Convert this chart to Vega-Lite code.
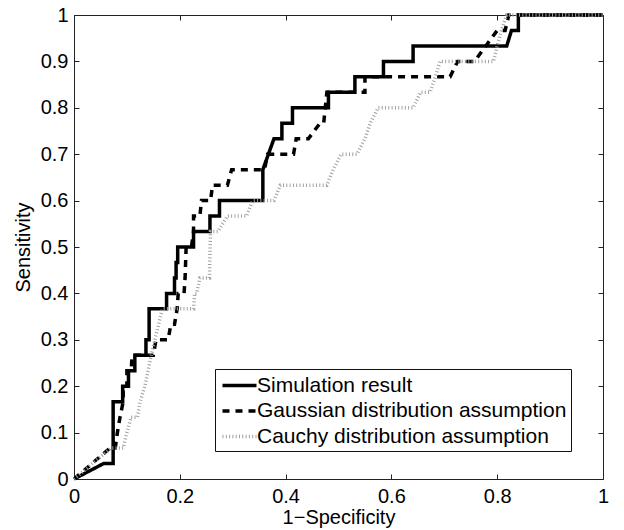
{
  "$schema": "https://vega.github.io/schema/vega-lite/v6.json",
  "width": 529,
  "height": 464,
  "autosize": "none",
  "padding": {"left": 74, "top": 15, "right": 21, "bottom": 51},
  "background": "white",
  "config": {
    "font": "Liberation Sans",
    "view": {"stroke": "#222222", "strokeWidth": 1},
    "axis": {"grid": false, "domain": false, "labelFont": "Liberation Sans", "titleFont": "Liberation Sans", "labelColor": "black", "titleColor": "black", "tickColor": "#222222", "labelFlush": false, "labelOverlap": false, "titleFontWeight": "normal"}
  },
  "data": {"values": [
    {"s": "Simulation result", "i": 0, "x": 0, "y": 0},
    {"s": "Simulation result", "i": 1, "x": 0.056, "y": 0.0333},
    {"s": "Simulation result", "i": 2, "x": 0.074, "y": 0.0333},
    {"s": "Simulation result", "i": 3, "x": 0.074, "y": 0.1667},
    {"s": "Simulation result", "i": 4, "x": 0.092, "y": 0.1667},
    {"s": "Simulation result", "i": 5, "x": 0.092, "y": 0.2},
    {"s": "Simulation result", "i": 6, "x": 0.103, "y": 0.2},
    {"s": "Simulation result", "i": 7, "x": 0.103, "y": 0.2333},
    {"s": "Simulation result", "i": 8, "x": 0.115, "y": 0.2333},
    {"s": "Simulation result", "i": 9, "x": 0.115, "y": 0.2667},
    {"s": "Simulation result", "i": 10, "x": 0.136, "y": 0.2667},
    {"s": "Simulation result", "i": 11, "x": 0.136, "y": 0.3},
    {"s": "Simulation result", "i": 12, "x": 0.142, "y": 0.3},
    {"s": "Simulation result", "i": 13, "x": 0.142, "y": 0.3667},
    {"s": "Simulation result", "i": 14, "x": 0.175, "y": 0.3667},
    {"s": "Simulation result", "i": 15, "x": 0.175, "y": 0.4},
    {"s": "Simulation result", "i": 16, "x": 0.19, "y": 0.4},
    {"s": "Simulation result", "i": 17, "x": 0.19, "y": 0.4333},
    {"s": "Simulation result", "i": 18, "x": 0.193, "y": 0.4333},
    {"s": "Simulation result", "i": 19, "x": 0.193, "y": 0.4667},
    {"s": "Simulation result", "i": 20, "x": 0.196, "y": 0.4667},
    {"s": "Simulation result", "i": 21, "x": 0.196, "y": 0.5},
    {"s": "Simulation result", "i": 22, "x": 0.226, "y": 0.5},
    {"s": "Simulation result", "i": 23, "x": 0.226, "y": 0.5333},
    {"s": "Simulation result", "i": 24, "x": 0.257, "y": 0.5333},
    {"s": "Simulation result", "i": 25, "x": 0.257, "y": 0.5667},
    {"s": "Simulation result", "i": 26, "x": 0.275, "y": 0.5667},
    {"s": "Simulation result", "i": 27, "x": 0.275, "y": 0.6},
    {"s": "Simulation result", "i": 28, "x": 0.357, "y": 0.6},
    {"s": "Simulation result", "i": 29, "x": 0.357, "y": 0.6667},
    {"s": "Simulation result", "i": 30, "x": 0.378, "y": 0.7333},
    {"s": "Simulation result", "i": 31, "x": 0.393, "y": 0.7333},
    {"s": "Simulation result", "i": 32, "x": 0.393, "y": 0.7667},
    {"s": "Simulation result", "i": 33, "x": 0.413, "y": 0.7667},
    {"s": "Simulation result", "i": 34, "x": 0.413, "y": 0.8},
    {"s": "Simulation result", "i": 35, "x": 0.481, "y": 0.8},
    {"s": "Simulation result", "i": 36, "x": 0.481, "y": 0.8333},
    {"s": "Simulation result", "i": 37, "x": 0.531, "y": 0.8333},
    {"s": "Simulation result", "i": 38, "x": 0.531, "y": 0.8667},
    {"s": "Simulation result", "i": 39, "x": 0.585, "y": 0.8667},
    {"s": "Simulation result", "i": 40, "x": 0.585, "y": 0.9},
    {"s": "Simulation result", "i": 41, "x": 0.641, "y": 0.9},
    {"s": "Simulation result", "i": 42, "x": 0.641, "y": 0.9333},
    {"s": "Simulation result", "i": 43, "x": 0.818, "y": 0.9333},
    {"s": "Simulation result", "i": 44, "x": 0.827, "y": 0.9667},
    {"s": "Simulation result", "i": 45, "x": 0.84, "y": 0.9667},
    {"s": "Simulation result", "i": 46, "x": 0.84, "y": 1},
    {"s": "Simulation result", "i": 47, "x": 1, "y": 1},

    {"s": "Gaussian distribution assumption", "i": 0, "x": 0, "y": 0},
    {"s": "Gaussian distribution assumption", "i": 1, "x": 0.068, "y": 0.0667},
    {"s": "Gaussian distribution assumption", "i": 2, "x": 0.078, "y": 0.0667},
    {"s": "Gaussian distribution assumption", "i": 3, "x": 0.082, "y": 0.1},
    {"s": "Gaussian distribution assumption", "i": 4, "x": 0.087, "y": 0.1333},
    {"s": "Gaussian distribution assumption", "i": 5, "x": 0.093, "y": 0.1667},
    {"s": "Gaussian distribution assumption", "i": 6, "x": 0.093, "y": 0.2},
    {"s": "Gaussian distribution assumption", "i": 7, "x": 0.1, "y": 0.2},
    {"s": "Gaussian distribution assumption", "i": 8, "x": 0.1, "y": 0.2333},
    {"s": "Gaussian distribution assumption", "i": 9, "x": 0.108, "y": 0.2333},
    {"s": "Gaussian distribution assumption", "i": 10, "x": 0.11, "y": 0.2667},
    {"s": "Gaussian distribution assumption", "i": 11, "x": 0.15, "y": 0.2667},
    {"s": "Gaussian distribution assumption", "i": 12, "x": 0.155, "y": 0.3},
    {"s": "Gaussian distribution assumption", "i": 13, "x": 0.178, "y": 0.3},
    {"s": "Gaussian distribution assumption", "i": 14, "x": 0.183, "y": 0.3333},
    {"s": "Gaussian distribution assumption", "i": 15, "x": 0.19, "y": 0.3333},
    {"s": "Gaussian distribution assumption", "i": 16, "x": 0.195, "y": 0.3667},
    {"s": "Gaussian distribution assumption", "i": 17, "x": 0.197, "y": 0.4},
    {"s": "Gaussian distribution assumption", "i": 18, "x": 0.208, "y": 0.4},
    {"s": "Gaussian distribution assumption", "i": 19, "x": 0.21, "y": 0.4333},
    {"s": "Gaussian distribution assumption", "i": 20, "x": 0.212, "y": 0.5},
    {"s": "Gaussian distribution assumption", "i": 21, "x": 0.222, "y": 0.5},
    {"s": "Gaussian distribution assumption", "i": 22, "x": 0.226, "y": 0.5333},
    {"s": "Gaussian distribution assumption", "i": 23, "x": 0.226, "y": 0.5667},
    {"s": "Gaussian distribution assumption", "i": 24, "x": 0.238, "y": 0.5667},
    {"s": "Gaussian distribution assumption", "i": 25, "x": 0.241, "y": 0.6},
    {"s": "Gaussian distribution assumption", "i": 26, "x": 0.258, "y": 0.6},
    {"s": "Gaussian distribution assumption", "i": 27, "x": 0.262, "y": 0.6333},
    {"s": "Gaussian distribution assumption", "i": 28, "x": 0.29, "y": 0.6333},
    {"s": "Gaussian distribution assumption", "i": 29, "x": 0.298, "y": 0.6667},
    {"s": "Gaussian distribution assumption", "i": 30, "x": 0.36, "y": 0.6667},
    {"s": "Gaussian distribution assumption", "i": 31, "x": 0.366, "y": 0.7},
    {"s": "Gaussian distribution assumption", "i": 32, "x": 0.415, "y": 0.7},
    {"s": "Gaussian distribution assumption", "i": 33, "x": 0.42, "y": 0.7333},
    {"s": "Gaussian distribution assumption", "i": 34, "x": 0.443, "y": 0.7333},
    {"s": "Gaussian distribution assumption", "i": 35, "x": 0.465, "y": 0.7667},
    {"s": "Gaussian distribution assumption", "i": 36, "x": 0.472, "y": 0.7667},
    {"s": "Gaussian distribution assumption", "i": 37, "x": 0.478, "y": 0.8333},
    {"s": "Gaussian distribution assumption", "i": 38, "x": 0.55, "y": 0.8333},
    {"s": "Gaussian distribution assumption", "i": 39, "x": 0.55, "y": 0.8667},
    {"s": "Gaussian distribution assumption", "i": 40, "x": 0.711, "y": 0.8667},
    {"s": "Gaussian distribution assumption", "i": 41, "x": 0.725, "y": 0.9},
    {"s": "Gaussian distribution assumption", "i": 42, "x": 0.757, "y": 0.9},
    {"s": "Gaussian distribution assumption", "i": 43, "x": 0.8, "y": 0.9667},
    {"s": "Gaussian distribution assumption", "i": 44, "x": 0.815, "y": 0.9667},
    {"s": "Gaussian distribution assumption", "i": 45, "x": 0.822, "y": 1},
    {"s": "Gaussian distribution assumption", "i": 46, "x": 1, "y": 1},

    {"s": "Cauchy distribution assumption", "i": 0, "x": 0, "y": 0},
    {"s": "Cauchy distribution assumption", "i": 1, "x": 0.07, "y": 0.0667},
    {"s": "Cauchy distribution assumption", "i": 2, "x": 0.093, "y": 0.0667},
    {"s": "Cauchy distribution assumption", "i": 3, "x": 0.1, "y": 0.1},
    {"s": "Cauchy distribution assumption", "i": 4, "x": 0.108, "y": 0.1333},
    {"s": "Cauchy distribution assumption", "i": 5, "x": 0.12, "y": 0.1333},
    {"s": "Cauchy distribution assumption", "i": 6, "x": 0.125, "y": 0.1667},
    {"s": "Cauchy distribution assumption", "i": 7, "x": 0.134, "y": 0.2},
    {"s": "Cauchy distribution assumption", "i": 8, "x": 0.14, "y": 0.2333},
    {"s": "Cauchy distribution assumption", "i": 9, "x": 0.146, "y": 0.2667},
    {"s": "Cauchy distribution assumption", "i": 10, "x": 0.153, "y": 0.3},
    {"s": "Cauchy distribution assumption", "i": 11, "x": 0.16, "y": 0.3333},
    {"s": "Cauchy distribution assumption", "i": 12, "x": 0.167, "y": 0.3667},
    {"s": "Cauchy distribution assumption", "i": 13, "x": 0.2, "y": 0.3667},
    {"s": "Cauchy distribution assumption", "i": 14, "x": 0.226, "y": 0.3667},
    {"s": "Cauchy distribution assumption", "i": 15, "x": 0.228, "y": 0.4},
    {"s": "Cauchy distribution assumption", "i": 16, "x": 0.232, "y": 0.4},
    {"s": "Cauchy distribution assumption", "i": 17, "x": 0.238, "y": 0.4333},
    {"s": "Cauchy distribution assumption", "i": 18, "x": 0.256, "y": 0.4333},
    {"s": "Cauchy distribution assumption", "i": 19, "x": 0.258, "y": 0.5333},
    {"s": "Cauchy distribution assumption", "i": 20, "x": 0.272, "y": 0.5333},
    {"s": "Cauchy distribution assumption", "i": 21, "x": 0.29, "y": 0.5667},
    {"s": "Cauchy distribution assumption", "i": 22, "x": 0.326, "y": 0.5667},
    {"s": "Cauchy distribution assumption", "i": 23, "x": 0.338, "y": 0.6},
    {"s": "Cauchy distribution assumption", "i": 24, "x": 0.378, "y": 0.6},
    {"s": "Cauchy distribution assumption", "i": 25, "x": 0.39, "y": 0.6333},
    {"s": "Cauchy distribution assumption", "i": 26, "x": 0.478, "y": 0.6333},
    {"s": "Cauchy distribution assumption", "i": 27, "x": 0.49, "y": 0.6667},
    {"s": "Cauchy distribution assumption", "i": 28, "x": 0.505, "y": 0.7},
    {"s": "Cauchy distribution assumption", "i": 29, "x": 0.535, "y": 0.7},
    {"s": "Cauchy distribution assumption", "i": 30, "x": 0.55, "y": 0.7333},
    {"s": "Cauchy distribution assumption", "i": 31, "x": 0.56, "y": 0.7667},
    {"s": "Cauchy distribution assumption", "i": 32, "x": 0.575, "y": 0.8},
    {"s": "Cauchy distribution assumption", "i": 33, "x": 0.641, "y": 0.8},
    {"s": "Cauchy distribution assumption", "i": 34, "x": 0.655, "y": 0.8333},
    {"s": "Cauchy distribution assumption", "i": 35, "x": 0.673, "y": 0.8333},
    {"s": "Cauchy distribution assumption", "i": 36, "x": 0.683, "y": 0.8667},
    {"s": "Cauchy distribution assumption", "i": 37, "x": 0.692, "y": 0.9},
    {"s": "Cauchy distribution assumption", "i": 38, "x": 0.793, "y": 0.9},
    {"s": "Cauchy distribution assumption", "i": 39, "x": 0.8, "y": 0.9333},
    {"s": "Cauchy distribution assumption", "i": 40, "x": 0.808, "y": 0.9667},
    {"s": "Cauchy distribution assumption", "i": 41, "x": 0.818, "y": 1},
    {"s": "Cauchy distribution assumption", "i": 42, "x": 1, "y": 1}
  ]},
  "resolve": {"axis": {"x": "independent", "y": "independent"}},
  "layer": [
    {
      "mark": {"type": "line", "strokeCap": "butt", "strokeJoin": "miter"},
      "encoding": {
        "x": {"field": "x", "type": "quantitative", "scale": {"domain": [0, 1], "nice": false, "zero": false},
          "axis": {"orient": "bottom", "values": [0, 0.2, 0.4, 0.6, 0.8, 1], "format": "~g", "labelFontSize": 20, "tickSize": -5, "labelPadding": 12, "title": "1−Specificity", "titleFontSize": 20, "titleY": 44.5, "titleBaseline": "alphabetic"}},
        "y": {"field": "y", "type": "quantitative", "scale": {"domain": [0, 1], "nice": false, "zero": false},
          "axis": {"orient": "left", "values": [0, 0.1, 0.2, 0.3, 0.4, 0.5, 0.6, 0.7, 0.8, 0.9, 1], "format": "~g", "labelFontSize": 20, "tickSize": -5, "labelPadding": 11, "title": "Sensitivity", "titleFontSize": 20, "titleAngle": 270, "titleX": -45, "titleY": 232, "titleAlign": "center", "titleBaseline": "alphabetic"}},
        "order": {"field": "i", "type": "quantitative"},
        "color": {"field": "s", "type": "nominal",
          "scale": {"domain": ["Simulation result", "Gaussian distribution assumption", "Cauchy distribution assumption"], "range": ["#000000", "#000000", "#a0a0a0"]},
          "legend": {"title": null, "orient": "none", "legendX": 141, "legendY": 354, "fillColor": "white", "strokeColor": "#111111", "padding": 4, "symbolType": "M-1.6,0H1.6", "symbolSize": 452, "symbolOffset": 8, "labelFontSize": 21, "labelFont": "Liberation Sans", "labelColor": "black", "labelLimit": 500, "labelOffset": 5, "rowPadding": 2.5}},
        "strokeDash": {"field": "s", "type": "nominal",
          "scale": {"domain": ["Simulation result", "Gaussian distribution assumption", "Cauchy distribution assumption"], "range": [[1, 0], [7, 6], [1, 2.3]]},
          "legend": {"title": null, "orient": "none", "legendX": 141, "legendY": 354, "fillColor": "white", "strokeColor": "#111111", "padding": 4, "symbolType": "M-1.6,0H1.6", "symbolSize": 452, "symbolOffset": 8, "labelFontSize": 21, "labelFont": "Liberation Sans", "labelColor": "black", "labelLimit": 500, "labelOffset": 5, "rowPadding": 2.5}},
        "strokeWidth": {"field": "s", "type": "nominal",
          "scale": {"domain": ["Simulation result", "Gaussian distribution assumption", "Cauchy distribution assumption"], "range": [3.5, 3.5, 2.5]},
          "legend": {"title": null, "orient": "none", "legendX": 141, "legendY": 354, "fillColor": "white", "strokeColor": "#111111", "padding": 4, "symbolType": "M-1.6,0H1.6", "symbolSize": 452, "symbolOffset": 8, "labelFontSize": 21, "labelFont": "Liberation Sans", "labelColor": "black", "labelLimit": 500, "labelOffset": 5, "rowPadding": 2.5}}
      }
    },
    {
      "mark": {"type": "point", "opacity": 0},
      "encoding": {
        "x": {"field": "x", "type": "quantitative", "axis": {"orient": "top", "values": [0, 0.2, 0.4, 0.6, 0.8, 1], "labels": false, "title": null, "tickSize": -5}},
        "y": {"field": "y", "type": "quantitative", "axis": {"orient": "right", "values": [0, 0.1, 0.2, 0.3, 0.4, 0.5, 0.6, 0.7, 0.8, 0.9, 1], "labels": false, "title": null, "tickSize": -5}}
      }
    }
  ]
}
